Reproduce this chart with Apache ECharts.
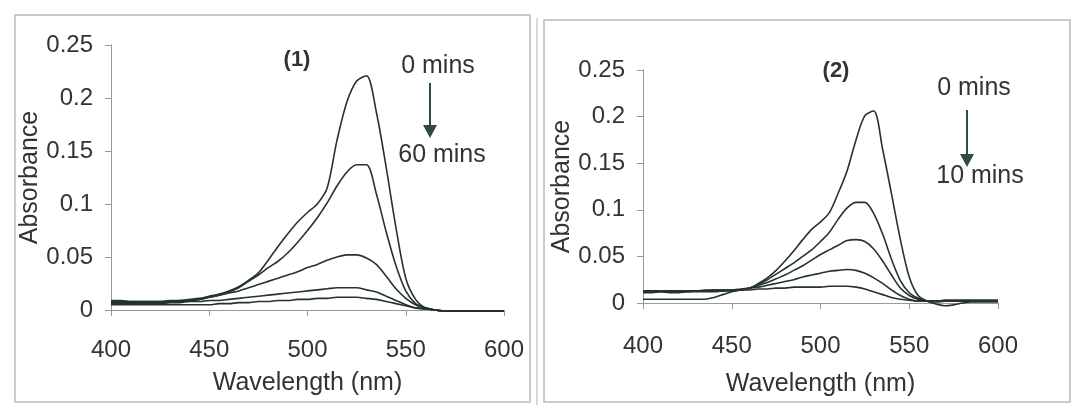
<!DOCTYPE html>
<html>
<head>
<meta charset="utf-8">
<script src="https://cdn.jsdelivr.net/npm/echarts@6/dist/echarts.min.js"></script>
<style>
  html, body { margin: 0; padding: 0; background: #fff; }
  #main { width: 1076px; height: 405px; }
</style>
</head>
<body>
<div id="main"></div>
<script>
// wavelength grid, nm (5 nm steps)
const wavelengths = [400,405,410,415,420,425,430,435,440,445,450,455,460,465,470,475,480,485,490,495,500,
  505,510,515,520,525,530,535,540,545,550,555,560,565,570,575,580,585,590,595,600];

// panel (1): 0 mins ... 60 mins
const p1_t0 = [.009,.009,.008,.008,.008,.008,.009,.009,.010,.011,.013,.015,.018,.022,.028,.035,.047,.060,.072,.083,.092,
  .100,.115,.160,.196,.216,.221,.187,.135,.078,.030,.010,.002,.000,-.001,-.001,-.001,-.001,-.001,-.001,-.001];
const p1_t1 = [.008,.008,.008,.008,.008,.008,.008,.009,.009,.010,.012,.014,.017,.021,.027,.033,.040,.046,.054,.064,.075,
  .087,.101,.117,.130,.137,.137,.110,.074,.042,.018,.006,.002,.000,-.001,-.001,-.001,-.001,-.001,-.001,-.001];
const p1_t2 = [.007,.007,.007,.007,.007,.007,.008,.008,.009,.010,.012,.014,.016,.018,.021,.024,.027,.030,.033,.036,.040,
  .043,.047,.050,.052,.052,.049,.043,.032,.020,.011,.005,.002,.000,-.001,-.001,-.001,-.001,-.001,-.001,-.001];
const p1_t3 = [.006,.006,.006,.006,.006,.006,.007,.007,.008,.008,.009,.009,.010,.011,.012,.013,.014,.015,.016,.017,.018,
  .019,.020,.021,.021,.021,.019,.017,.013,.009,.005,.002,.001,.000,-.001,-.001,-.001,-.001,-.001,-.001,-.001];
const p1_t4 = [.005,.005,.005,.005,.005,.005,.005,.005,.005,.005,.005,.006,.006,.007,.007,.008,.008,.009,.009,.010,.010,
  .011,.011,.012,.012,.012,.011,.010,.008,.006,.004,.002,.001,.000,-.001,-.001,-.001,-.001,-.001,-.001,-.001];

// panel (2): 0 mins ... 10 mins
const p2_t0 = [.004,.004,.004,.004,.004,.004,.004,.004,.006,.009,.012,.014,.016,.021,.027,.035,.045,.056,.068,.079,.087,
  .097,.118,.142,.175,.201,.206,.165,.117,.068,.028,.008,.002,-.001,-.003,-.002,.000,.001,.001,.001,.001];
const p2_t1 = [.011,.011,.012,.011,.011,.012,.012,.012,.012,.013,.013,.014,.016,.020,.025,.031,.037,.043,.050,.057,.066,
  .076,.090,.102,.108,.108,.096,.074,.047,.024,.011,.005,.002,.001,.002,.002,.002,.002,.002,.002,.002];
const p2_t2 = [.012,.012,.012,.012,.013,.012,.013,.013,.013,.013,.014,.014,.016,.019,.022,.026,.030,.035,.040,.046,.052,
  .057,.062,.067,.068,.066,.058,.045,.030,.016,.008,.004,.002,.002,.002,.002,.002,.002,.002,.002,.002];
const p2_t3 = [.012,.013,.013,.012,.013,.013,.013,.013,.014,.014,.014,.015,.016,.017,.019,.021,.023,.025,.028,.030,.032,
  .034,.035,.036,.035,.032,.027,.021,.014,.008,.004,.002,.002,.002,.003,.003,.003,.003,.003,.003,.003];
const p2_t4 = [.013,.013,.013,.013,.013,.013,.013,.014,.014,.014,.014,.014,.014,.015,.015,.016,.016,.017,.017,.017,.017,
  .018,.018,.018,.017,.015,.012,.009,.006,.004,.003,.002,.002,.002,.003,.003,.003,.003,.003,.003,.003];

const xTicks = { min: 400, max: 600, interval: 50 };
const yTicks = { min: 0, max: 0.25, interval: 0.05 };

const FONT = "'Liberation Sans', Arial, sans-serif";
const TXT = '#333';
const LINE = '#26322f';

const chart = echarts.init(document.getElementById('main'));

function pairs(vals) {
  return wavelengths.map((w, i) => [w, vals[i]]);
}

function curve(vals, idx) {
  return {
    type: 'line',
    xAxisIndex: idx,
    yAxisIndex: idx,
    data: pairs(vals),
    showSymbol: false,
    smooth: 0.3,
    clip: false,
    lineStyle: { color: LINE, width: 1.6 },
    silent: true
  };
}

function xAxis(idx, margin, nameGap) {
  return {
    type: 'value', gridIndex: idx, ...xTicks,
    name: 'Wavelength (nm)', nameLocation: 'middle', nameGap: nameGap,
    nameTextStyle: { fontFamily: FONT, fontSize: 25, color: TXT },
    axisLine: { onZero: false, lineStyle: { color: '#999', width: 1 } },
    axisTick: { show: true, length: 6, lineStyle: { color: '#999' } },
    axisLabel: { fontFamily: FONT, fontSize: 24, color: TXT, margin: margin },
    splitLine: { show: false }
  };
}

function yAxis(idx, nameGap) {
  return {
    type: 'value', gridIndex: idx, ...yTicks,
    name: 'Absorbance', nameLocation: 'middle', nameGap: nameGap,
    nameTextStyle: { fontFamily: FONT, fontSize: 25, color: TXT },
    axisLine: { show: true, lineStyle: { color: '#999', width: 1 } },
    axisTick: { show: true, length: 6, lineStyle: { color: '#999' } },
    axisLabel: { fontFamily: FONT, fontSize: 24, color: TXT, margin: 18 },
    splitLine: { show: false }
  };
}

function arrow(x, y1, y2) {
  return {
    type: 'group',
    children: [
      { type: 'line', shape: { x1: x, y1: y1, x2: x, y2: y2 - 10 }, style: { stroke: '#2f4a45', lineWidth: 2 } },
      { type: 'polygon', shape: { points: [[x - 7, y2 - 13], [x + 7, y2 - 13], [x, y2]] }, style: { fill: '#2f4a45' } }
    ]
  };
}

function label(text, x, y, size, bold) {
  return {
    type: 'text', x: x, y: y,
    style: { text: text, font: (bold ? 'bold ' : '') + size + 'px ' + FONT, fill: TXT, align: 'center', verticalAlign: 'middle' }
  };
}

chart.setOption({
  animation: false,
  backgroundColor: '#fff',
  grid: [
    { left: 111, right: 572, top: 45, bottom: 95 },
    { left: 643, right: 78, top: 70, bottom: 102 }
  ],
  xAxis: [xAxis(0, 28, 61), xAxis(1, 31, 69)],
  yAxis: [yAxis(0, 64), yAxis(1, 67)],
  series: [
    curve(p1_t0, 0), curve(p1_t1, 0), curve(p1_t2, 0), curve(p1_t3, 0), curve(p1_t4, 0),
    curve(p2_t0, 1), curve(p2_t1, 1), curve(p2_t2, 1), curve(p2_t3, 1), curve(p2_t4, 1)
  ],
  graphic: [
    { type: 'rect', shape: { x: 15, y: 15, width: 515, height: 387 }, style: { fill: 'none', stroke: '#bbb', lineWidth: 1.5 } },
    { type: 'line', shape: { x1: 537, y1: 18, x2: 537, y2: 405 }, style: { stroke: '#ccc', lineWidth: 1.5 } },
    { type: 'rect', shape: { x: 544, y: 20, width: 526, height: 382 }, style: { fill: 'none', stroke: '#bbb', lineWidth: 1.5 } },
    label('(1)', 297, 60, 22, true),
    label('(2)', 836, 71, 22, true),
    label('0 mins', 438, 66, 25),
    label('60 mins', 442, 155, 25),
    label('0 mins', 974, 88, 25),
    label('10 mins', 980, 176, 25),
    arrow(430, 83, 138),
    arrow(967, 110, 167)
  ]
});
</script>
</body>
</html>
